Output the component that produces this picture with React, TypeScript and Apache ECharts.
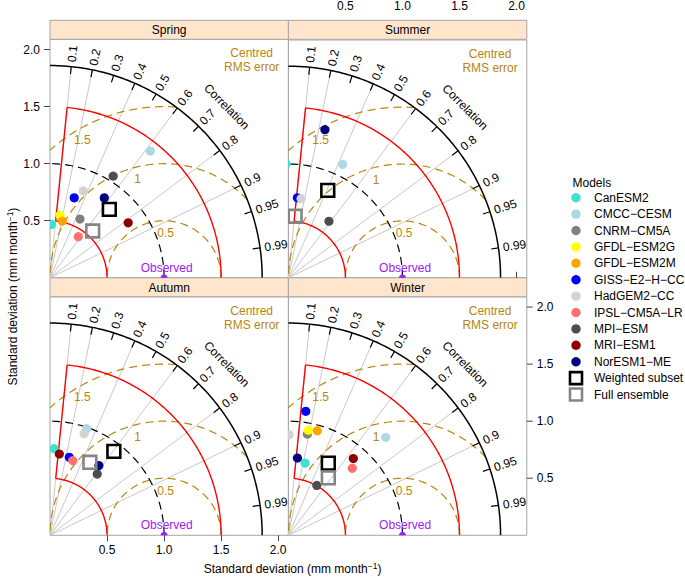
import React, { useEffect, useRef } from "react";
import * as echarts from "echarts";

// ---------------- data ----------------
const seasons = ["Spring", "Summer", "Autumn", "Winter"];
const models = [
  "CanESM2", "CMCC\u2212CESM", "CNRM\u2212CM5A", "GFDL\u2212ESM2G", "GFDL\u2212ESM2M",
  "GISS\u2212E2\u2212H\u2212CC", "HadGEM2\u2212CC", "IPSL\u2212CM5A\u2212LR", "MPI\u2212ESM",
  "MRI\u2212ESM1", "NorESM1\u2212ME", "Weighted subset", "Full ensemble",
];
const modelColors = [
  "#40E0D0", "#ADD8E6", "#808080", "#FFFF00", "#FFA500", "#0000FF", "#D3D3D3",
  "#FF7070", "#4D4D4D", "#8B0000", "#000080", "#000000", "#858585",
];
// standard deviation (mm/month) and correlation, per model (null = outside the diagram)
const springSd = [0.468, 1.417, 0.578, 0.556, 0.508, 0.732, 0.816, 0.437, 1.049, 0.838, 0.847, 0.794, 0.555];
const springCorr = [0.03, 0.621, 0.455, 0.158, 0.212, 0.29, 0.358, 0.567, 0.528, 0.818, 0.562, 0.655, 0.674];
const summerSd = [1.0, 1.104, null, null, null, 0.708, 0.704, null, 0.611, null, 1.341, 0.842, 0.544];
const summerCorr = [-0.02, 0.431, null, null, null, 0.111, 0.158, null, 0.582, null, 0.239, 0.41, 0.108];
const autumnSd = [0.76, 0.988, null, null, null, 0.704, 0.939, 0.684, 0.678, 0.717, 0.747, 0.924, 0.729];
const autumnCorr = [0.046, 0.325, null, null, null, 0.24, 0.319, 0.291, 0.611, 0.114, 0.574, 0.606, 0.48];
const winterSd = [0.65, 1.21, 0.902, 0.936, 0.951, 1.097, 0.882, 0.811, 0.503, 0.881, 0.682, 0.723, 0.613];
const winterCorr = [0.225, 0.705, 0.184, 0.187, 0.267, 0.139, 0.007, 0.69, 0.495, 0.646, 0.116, 0.484, 0.571];

const seasonSd = [springSd, summerSd, autumnSd, winterSd];
const seasonCorr = [springCorr, summerCorr, autumnCorr, winterCorr];

const corrTicks = [0.1, 0.2, 0.3, 0.4, 0.5, 0.6, 0.7, 0.8, 0.9, 0.95, 0.99];
const corrLines = [0.1, 0.2, 0.4, 0.6, 0.8, 0.9];
const rmsCircles = [0.5, 1, 1.5];
const rmsLabels = ["0.5", "1", "1.5"];
const rmsLabelPos = [[1.014, 0.39], [0.769, 0.863], [0.283, 1.208]];
const axisTickValues = [0.5, 1.0, 1.5, 2.0];
const obsSd = 1.0;
const maxSd = 1.86;
const improveCorr = 0.1;
const improveSd = [0.5, 1.5];

// ---------------- layout ----------------
const W = 238.4;
const H = 238.5;
const colLeft = [50, 288.4];
const rowTop = [39.3, 296.8];
const stripH = 19;
const AX_MAX = 2.09;
const FONT = "'Liberation Sans', Arial, Helvetica, sans-serif";
const BORDER = "#a6a6a6";
const TICK = "#444";
const GOLD = "#B8860B";

const toXY = (sd: number, r: number) => [sd * r, sd * Math.sqrt(Math.max(0, 1 - r * r))];

function furniture(_params: any, api: any) {
  const P = (x: number, y: number) => api.coord([x, y]);
  const ch: any[] = [];
  const poly = (pts: number[][], style: any) =>
    ch.push({ type: "polyline", silent: true, shape: { points: pts.map((p) => P(p[0], p[1])) }, style: { fill: "none", ...style } });
  const arc = (cx: number, cy: number, r: number, a0: number, a1: number) => {
    const n = 140;
    const pts: number[][] = [];
    for (let i = 0; i <= n; i++) {
      const a = a0 + ((a1 - a0) * i) / n;
      pts.push([cx + r * Math.cos(a), cy + r * Math.sin(a)]);
    }
    return pts;
  };
  const txt = (x: number, y: number, text: string, extra: any, rotation = 0) => {
    const p = P(x, y);
    ch.push({
      type: "text", silent: true, x: p[0], y: p[1], rotation,
      style: { text, fontSize: 12, fontFamily: FONT, fill: "#000", align: "center", verticalAlign: "middle", ...extra },
    });
  };
  corrLines.forEach((c) => poly([[0, 0], toXY(maxSd, c)], { stroke: "#c8c8c8", lineWidth: 1 }));
  rmsCircles.forEach((r) => {
    const lo = Math.acos(Math.min(1, Math.max(-1, (maxSd * maxSd - obsSd * obsSd - r * r) / (2 * r * obsSd))));
    const hi = r > obsSd ? Math.acos(-obsSd / r) : Math.PI;
    poly(arc(obsSd, 0, r, lo, hi), { stroke: GOLD, lineWidth: 1.2, lineDash: [8, 5] });
  });
  poly(arc(0, 0, obsSd, 0, Math.PI / 2), { stroke: "#000", lineWidth: 1.2, lineDash: [8, 5] });
  const ta = Math.acos(improveCorr);
  const red = { stroke: "#FF0000", lineWidth: 1.4 };
  poly(arc(0, 0, improveSd[0], 0, ta), red);
  poly(arc(0, 0, improveSd[1], 0, ta), red);
  poly([toXY(improveSd[0], improveCorr), toXY(improveSd[1], improveCorr)], red);
  poly(arc(0, 0, maxSd, 0, Math.PI / 2), { stroke: "#000", lineWidth: 1.5 });
  corrTicks.forEach((c) => {
    poly([toXY(maxSd - 0.065, c), toXY(maxSd, c)], { stroke: "#000", lineWidth: 1.2 });
    const q = toXY(1.9, c);
    txt(q[0], q[1], String(c), { align: "left" }, Math.acos(c));
  });
  txt(1.549, 1.5, "Correlation", {}, -Math.PI / 4);
  rmsLabels.forEach((l, i) => txt(rmsLabelPos[i][0], rmsLabelPos[i][1], l, { fill: GOLD }));
  txt(1.768, 1.906, "Centred\nRMS error", { fill: GOLD, lineHeight: 14 });
  txt(1.023, 0.0885, "Observed", { fill: "#A020F0" });
  const o = P(obsSd, 0);
  ch.push({ type: "circle", silent: true, shape: { cx: o[0], cy: o[1], r: 3.5 }, style: { fill: "#A020F0" } });
  return { type: "group", children: ch };
}

function pointItem(_params: any, api: any) {
  const sd = api.value(0);
  const r = api.value(1);
  const k = api.value(2);
  const p = api.coord(toXY(sd, r));
  const color = modelColors[k];
  if (k >= 11) {
    const s = 12.8;
    return { type: "rect", shape: { x: p[0] - s / 2, y: p[1] - s / 2, width: s, height: s }, style: { fill: "none", stroke: color, lineWidth: 2.6 } };
  }
  return { type: "circle", shape: { cx: p[0], cy: p[1], r: 4.6 }, style: { fill: color } };
}

// right-hand axis of the Winter panel, placed through the panel's own scale
function rightAxis(_params: any, api: any) {
  const ch: any[] = [];
  axisTickValues.forEach((v) => {
    const q = api.coord([AX_MAX, v]);
    ch.push({ type: "line", silent: true, shape: { x1: q[0], y1: q[1], x2: q[0] + 6, y2: q[1] }, style: { stroke: TICK, lineWidth: 1 } });
    ch.push({ type: "text", silent: true, x: q[0] + 10, y: q[1], style: { text: v.toFixed(1), align: "left", verticalAlign: "middle", fontSize: 12, fontFamily: FONT, fill: "#000" } });
  });
  return { type: "group", children: ch };
}

function buildOption() {
  const grids = seasons.map((_, i) => ({
    left: colLeft[i % 2], top: rowTop[Math.floor(i / 2)], width: W, height: H,
    show: true, borderColor: BORDER, borderWidth: 1, backgroundColor: "transparent",
  }));
  const labelStyle = { color: "#000", fontSize: 12, fontFamily: FONT };
  const xAxis = seasons.map((_, i) => {
    const on = i === 1 || i === 2;
    return {
      type: "value", gridIndex: i, min: 0, max: AX_MAX,
      position: i === 1 ? "top" : "bottom", offset: i === 1 ? stripH : 0,
      axisLine: { show: false }, splitLine: { show: false },
      axisTick: { show: on, length: 6, lineStyle: { color: TICK }, customValues: axisTickValues },
      axisLabel: { show: on, customValues: axisTickValues, formatter: (v: number) => v.toFixed(1), margin: 9, ...labelStyle },
    };
  });
  const yAxis = seasons.map((_, i) => {
    const on = i === 0;
    return {
      type: "value", gridIndex: i, min: 0, max: AX_MAX, position: "left",
      axisLine: { show: false }, splitLine: { show: false },
      axisTick: { show: on, length: 6, lineStyle: { color: TICK }, customValues: axisTickValues },
      axisLabel: { show: on, customValues: axisTickValues, formatter: (v: number) => v.toFixed(1), margin: 10, ...labelStyle },
    };
  });
  const series: any[] = [];
  seasons.forEach((s, i) => {
    series.push({
      type: "custom", name: s + " frame", xAxisIndex: i, yAxisIndex: i, clip: true, z: 2,
      data: [[0, 0]], renderItem: furniture, silent: true,
    });
    const data = models
      .map((_, k) => [seasonSd[i][k], seasonCorr[i][k], k])
      .filter((d) => d[0] !== null && d[1] !== null);
    series.push({
      type: "custom", name: s, xAxisIndex: i, yAxisIndex: i, clip: true, z: 3,
      data, renderItem: pointItem, silent: true,
    });
  });
  series.push({
    type: "custom", name: "Winter axis", xAxisIndex: 3, yAxisIndex: 3, clip: false, z: 4,
    data: [[0, 0]], renderItem: rightAxis, silent: true,
  });

  const graphic: any[] = [];
  seasons.forEach((s, i) => {
    const x = colLeft[i % 2];
    const y = rowTop[Math.floor(i / 2)] - stripH;
    graphic.push({ type: "rect", silent: true, shape: { x, y, width: W, height: stripH }, style: { fill: "#FFE5CC", stroke: BORDER, lineWidth: 1 } });
    graphic.push({ type: "text", silent: true, x: x + W / 2, y: y + stripH / 2 + 0.5, style: { text: s, fontSize: 12, fontFamily: FONT, fill: "#000", align: "center", verticalAlign: "middle" } });
  });
  const rich = {
    a: { fontSize: 12, fontFamily: FONT, fill: "#000", lineHeight: 15 },
    s: { fontSize: 8.5, fontFamily: FONT, fill: "#000", verticalAlign: "top", lineHeight: 9 },
  };
  const title = "{a|Standard deviation (mm month}{s|\u22121}{a|)}";
  graphic.push({ type: "text", silent: true, x: 292.5, y: 569, style: { text: title, rich, align: "center", verticalAlign: "middle" } });
  graphic.push({ type: "text", silent: true, x: 13, y: 296.5, rotation: Math.PI / 2, style: { text: title, rich, align: "center", verticalAlign: "middle" } });
  graphic.push({ type: "text", silent: true, x: 572.5, y: 182.7, style: { text: "Models", fontSize: 12, fontFamily: FONT, fill: "#000", align: "left", verticalAlign: "middle" } });
  models.forEach((m, k) => {
    const y = 197.7 + k * 16.4;
    if (k >= 11) {
      graphic.push({ type: "rect", silent: true, shape: { x: 576 - 6, y: y - 6, width: 12, height: 12 }, style: { fill: "none", stroke: modelColors[k], lineWidth: 2.6 } });
    } else {
      graphic.push({ type: "circle", silent: true, shape: { cx: 576, cy: y, r: 4.7 }, style: { fill: modelColors[k] } });
    }
    graphic.push({ type: "text", silent: true, x: 594, y, style: { text: m, fontSize: 12, fontFamily: FONT, fill: "#000", align: "left", verticalAlign: "middle" } });
  });

  return { animation: false, backgroundColor: "#fff", grid: grids, xAxis, yAxis, series, graphic };
}

export default function App() {
  const ref = useRef<HTMLDivElement>(null);
  useEffect(() => {
    if (!ref.current) return;
    const chart = echarts.init(ref.current, undefined, { renderer: "svg" });
    chart.setOption(buildOption() as any);
    return () => chart.dispose();
  }, []);
  return <div ref={ref} style={{ position: "absolute", left: 0, top: 0, width: 685, height: 577 }} />;
}
